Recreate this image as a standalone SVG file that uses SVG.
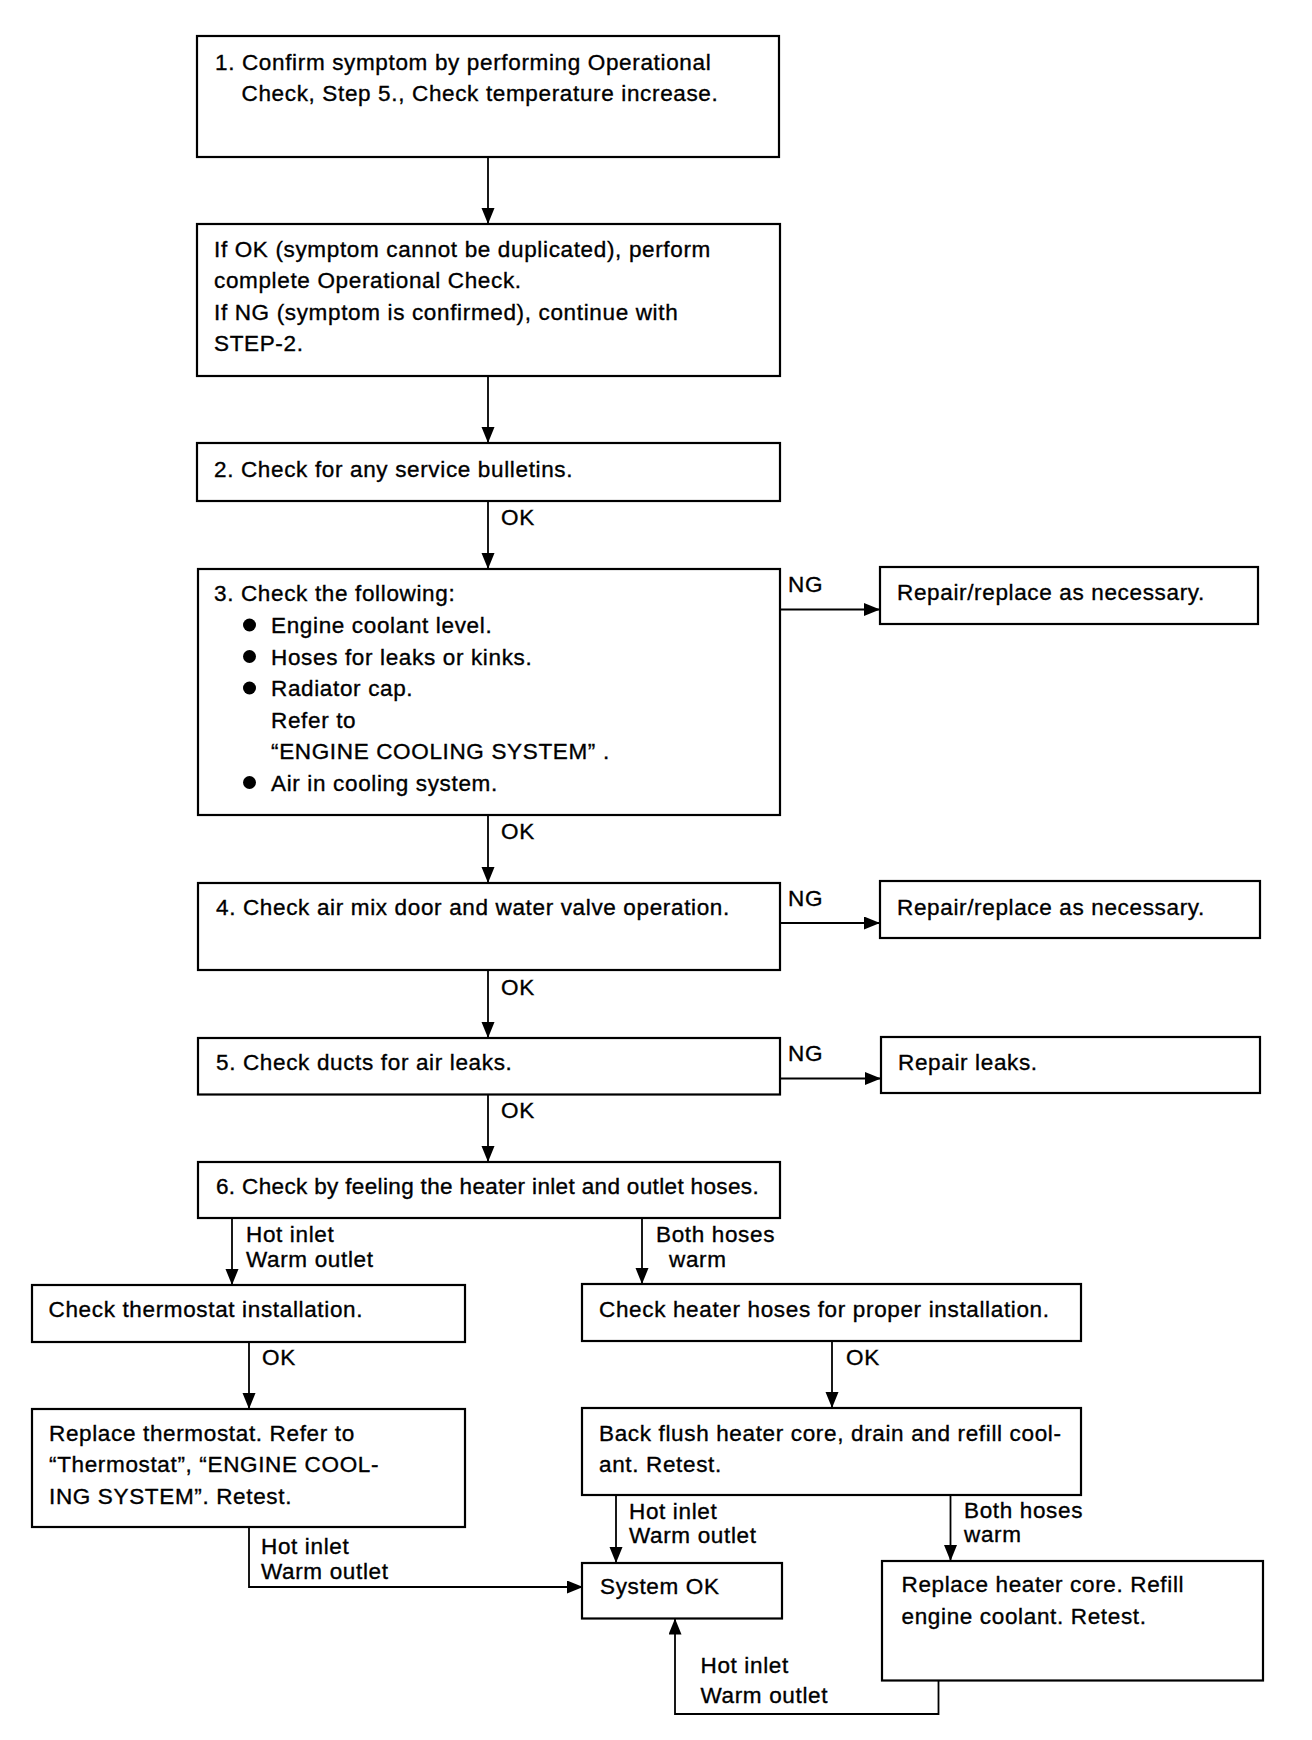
<svg xmlns="http://www.w3.org/2000/svg" width="1312" height="1740" viewBox="0 0 1312 1740">
<style>
  .box { fill: #fff; stroke: #000; stroke-width: 2.2; }
  .t { font-family: "Liberation Sans", Arial, sans-serif; font-size: 22.5px; letter-spacing: 0.65px; fill: #000; stroke: #000; stroke-width: 0.35px; }
  .c { fill: none; stroke: #000; stroke-width: 1.8; }
</style>
<defs>
  <marker id="ah" markerUnits="userSpaceOnUse" markerWidth="18" markerHeight="14" refX="16" refY="6.5" orient="auto">
    <path d="M0,0 L16,6.5 L0,13 Z" fill="#000"/>
  </marker>
</defs>
<rect width="1312" height="1740" fill="#fff"/>

<g id="connectors">
  <path class="c" d="M488,157 V224" marker-end="url(#ah)"/>
  <path class="c" d="M488,376 V443" marker-end="url(#ah)"/>
  <path class="c" d="M488,501 V569" marker-end="url(#ah)"/>
  <text class="t" x="501" y="525">OK</text>
  <path class="c" d="M780,609.5 H880" marker-end="url(#ah)"/>
  <text class="t" x="788" y="592">NG</text>
  <path class="c" d="M488,815 V883" marker-end="url(#ah)"/>
  <text class="t" x="501" y="839">OK</text>
  <path class="c" d="M780,923 H880" marker-end="url(#ah)"/>
  <text class="t" x="788" y="906">NG</text>
  <path class="c" d="M488,970 V1038" marker-end="url(#ah)"/>
  <text class="t" x="501" y="995">OK</text>
  <path class="c" d="M780,1078.5 H881" marker-end="url(#ah)"/>
  <text class="t" x="788" y="1061">NG</text>
  <path class="c" d="M488,1094.5 V1162" marker-end="url(#ah)"/>
  <text class="t" x="501" y="1118">OK</text>
  <path class="c" d="M232,1218 V1285" marker-end="url(#ah)"/>
  <text class="t" x="246" y="1242">Hot inlet</text>
  <text class="t" x="246" y="1266.5">Warm outlet</text>
  <path class="c" d="M642,1218 V1284" marker-end="url(#ah)"/>
  <text class="t" x="656" y="1242">Both hoses</text>
  <text class="t" x="669" y="1266.5">warm</text>
  <path class="c" d="M249,1342 V1409" marker-end="url(#ah)"/>
  <text class="t" x="262" y="1364.5">OK</text>
  <path class="c" d="M832,1341 V1408" marker-end="url(#ah)"/>
  <text class="t" x="846" y="1364.5">OK</text>
  <path class="c" d="M249,1527 V1587 H583" marker-end="url(#ah)"/>
  <text class="t" x="261" y="1554">Hot inlet</text>
  <text class="t" x="261" y="1579">Warm outlet</text>
  <path class="c" d="M616,1495 V1563" marker-end="url(#ah)"/>
  <text class="t" x="629" y="1518.5">Hot inlet</text>
  <text class="t" x="629" y="1543">Warm outlet</text>
  <path class="c" d="M950.5,1495 V1561" marker-end="url(#ah)"/>
  <text class="t" x="964" y="1518">Both hoses</text>
  <text class="t" x="964" y="1541.5">warm</text>
  <path class="c" d="M938.5,1680.5 V1714 H675 V1618.5" marker-end="url(#ah)"/>
  <text class="t" x="700.5" y="1673">Hot inlet</text>
  <text class="t" x="700.5" y="1703">Warm outlet</text>
</g>

<g id="step1">
  <rect class="box" x="197" y="36" width="582" height="121"/>
  <text class="t" x="215" y="69.5">1. Confirm symptom by performing Operational</text>
  <text class="t" x="241.5" y="101">Check, Step 5., Check temperature increase.</text>
</g>
<g id="step1b">
  <rect class="box" x="197" y="224" width="583" height="152"/>
  <text class="t" x="214" y="256.5">If OK (symptom cannot be duplicated), perform</text>
  <text class="t" x="214" y="288">complete Operational Check.</text>
  <text class="t" x="214" y="319.5">If NG (symptom is confirmed), continue with</text>
  <text class="t" x="214" y="351">STEP-2.</text>
</g>
<g id="step2">
  <rect class="box" x="197" y="443" width="583" height="58"/>
  <text class="t" x="214" y="476.5">2. Check for any service bulletins.</text>
</g>
<g id="step3">
  <rect class="box" x="198" y="569" width="582" height="246"/>
  <text class="t" x="214" y="601">3. Check the following:</text>
  <circle cx="249.5" cy="625" r="6.5"/>
  <text class="t" x="271" y="633">Engine coolant level.</text>
  <circle cx="249.5" cy="656.5" r="6.5"/>
  <text class="t" x="271" y="664.5">Hoses for leaks or kinks.</text>
  <circle cx="249.5" cy="688" r="6.5"/>
  <text class="t" x="271" y="696">Radiator cap.</text>
  <text class="t" x="271" y="727.5">Refer to</text>
  <text class="t" x="271" y="759">“ENGINE COOLING SYSTEM” .</text>
  <circle cx="249.5" cy="782.5" r="6.5"/>
  <text class="t" x="271" y="790.5">Air in cooling system.</text>
</g>
<g id="repair1">
  <rect class="box" x="880" y="567" width="378" height="57"/>
  <text class="t" x="897" y="600">Repair/replace as necessary.</text>
</g>
<g id="step4">
  <rect class="box" x="198" y="883" width="582" height="87"/>
  <text class="t" x="216" y="915">4. Check air mix door and water valve operation.</text>
</g>
<g id="repair2">
  <rect class="box" x="880" y="881" width="380" height="57"/>
  <text class="t" x="897" y="914.5">Repair/replace as necessary.</text>
</g>
<g id="step5">
  <rect class="box" x="198" y="1038" width="582" height="56.5"/>
  <text class="t" x="216" y="1070">5. Check ducts for air leaks.</text>
</g>
<g id="repair3">
  <rect class="box" x="881" y="1037" width="379" height="56"/>
  <text class="t" x="898" y="1069.5">Repair leaks.</text>
</g>
<g id="step6">
  <rect class="box" x="198" y="1162" width="582" height="56"/>
  <text class="t" x="216" y="1193.5" style="letter-spacing:0.35px">6. Check by feeling the heater inlet and outlet hoses.</text>
</g>
<g id="thermo-check">
  <rect class="box" x="32" y="1285" width="433" height="57"/>
  <text class="t" x="48.5" y="1316.5">Check thermostat installation.</text>
</g>
<g id="thermo-replace">
  <rect class="box" x="32" y="1409" width="433" height="118"/>
  <text class="t" x="49" y="1440.5">Replace thermostat. Refer to</text>
  <text class="t" x="49" y="1472">“Thermostat”, “ENGINE COOL-</text>
  <text class="t" x="49" y="1503.5">ING SYSTEM”. Retest.</text>
</g>
<g id="hoses-check">
  <rect class="box" x="582" y="1284" width="499" height="57"/>
  <text class="t" x="599" y="1316.5">Check heater hoses for proper installation.</text>
</g>
<g id="backflush">
  <rect class="box" x="582" y="1408" width="499" height="87"/>
  <text class="t" x="599" y="1440.5">Back flush heater core, drain and refill cool-</text>
  <text class="t" x="599" y="1472">ant. Retest.</text>
</g>
<g id="system-ok">
  <rect class="box" x="582" y="1563" width="200" height="55.5"/>
  <text class="t" x="600" y="1594">System OK</text>
</g>
<g id="replace-core">
  <rect class="box" x="882" y="1561" width="381" height="119.5"/>
  <text class="t" x="901.5" y="1592">Replace heater core. Refill</text>
  <text class="t" x="901.5" y="1624">engine coolant. Retest.</text>
</g>
</svg>
